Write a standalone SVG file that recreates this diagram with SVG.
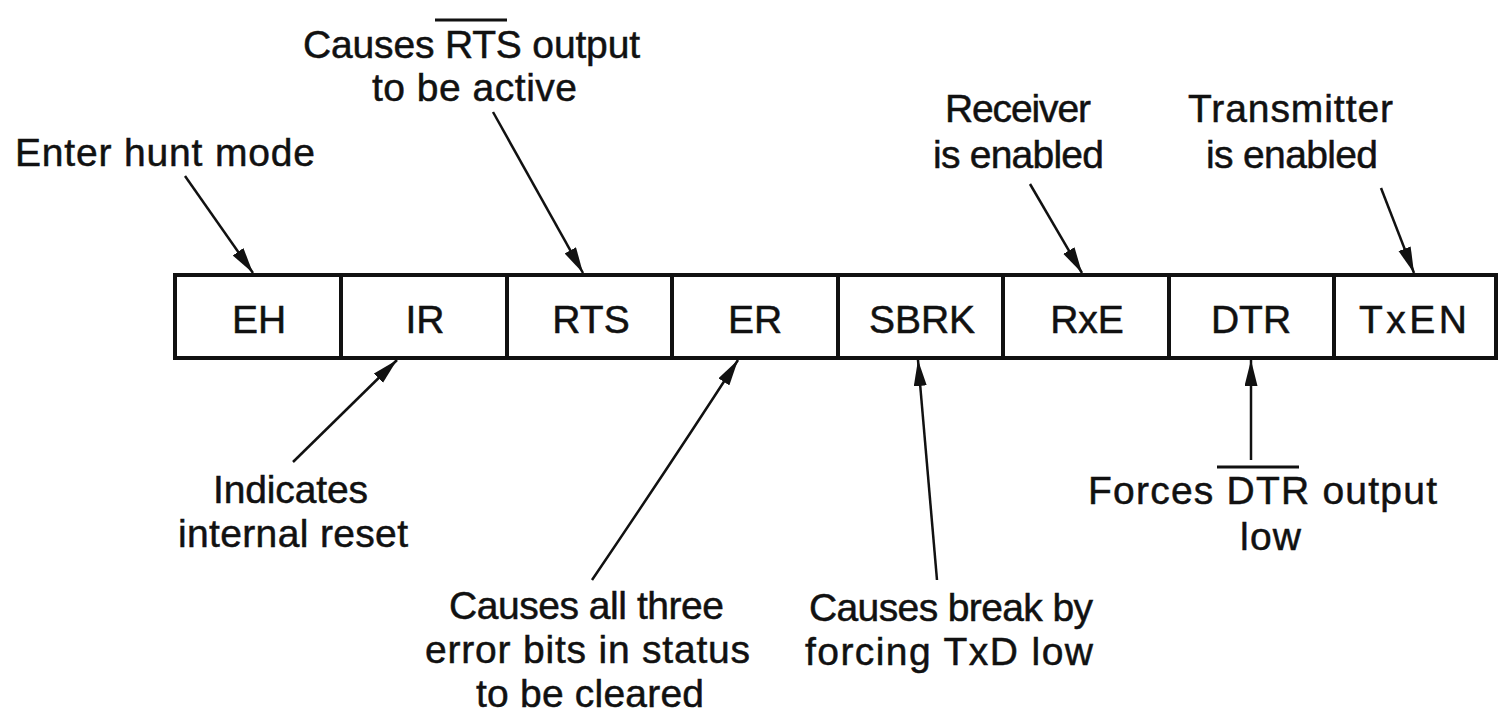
<svg xmlns="http://www.w3.org/2000/svg" width="1502" height="712" viewBox="0 0 1502 712">
  <style>
    .lbl { font-family: "Liberation Sans", Arial, sans-serif; font-size: 39px; fill: #111; stroke: #111; stroke-width: 0.5; }
    .cell { font-family: "Liberation Sans", Arial, sans-serif; font-size: 39px; fill: #111; stroke: #111; stroke-width: 0.5; text-anchor: middle; }
    .box { fill: #fff; stroke: #111; stroke-width: 4; }
    .div { stroke: #111; stroke-width: 4; }
    .arrow { fill: none; stroke: #111; stroke-width: 2.5; marker-end: url(#head); }
    .bar { stroke: #111; stroke-width: 3; }
  </style>
  <defs>
    <marker id="head" markerUnits="userSpaceOnUse" markerWidth="28" markerHeight="14" refX="26" refY="6.5" orient="auto">
      <path d="M0,0 L26,6.5 L0,13 Z" fill="#111"/>
    </marker>
  </defs>

  <rect width="1502" height="712" fill="#fff"/>

  <!-- command register: eight bit cells -->
  <g id="register">
    <rect class="box" x="175" y="275" width="1321" height="83"/>
    <line class="div" x1="341" y1="275" x2="341" y2="358"/>
    <line class="div" x1="507" y1="275" x2="507" y2="358"/>
    <line class="div" x1="672" y1="275" x2="672" y2="358"/>
    <line class="div" x1="838" y1="275" x2="838" y2="358"/>
    <line class="div" x1="1003" y1="275" x2="1003" y2="358"/>
    <line class="div" x1="1169" y1="275" x2="1169" y2="358"/>
    <line class="div" x1="1334" y1="275" x2="1334" y2="358"/>
  </g>
  <g id="bit-eh"><text class="cell" x="259" y="333">EH</text></g>
  <g id="bit-ir"><text class="cell" x="425" y="333">IR</text></g>
  <g id="bit-rts"><text class="cell" x="591" y="333">RTS</text></g>
  <g id="bit-er"><text class="cell" x="755" y="333">ER</text></g>
  <g id="bit-sbrk"><text class="cell" x="922" y="333">SBRK</text></g>
  <g id="bit-rxe"><text class="cell" x="1087" y="333">RxE</text></g>
  <g id="bit-dtr"><text class="cell" x="1251" y="333">DTR</text></g>
  <g id="bit-txen"><text class="cell" x="1413" y="333" textLength="108" lengthAdjust="spacing">TxEN</text></g>

  <!-- annotations -->
  <g id="note-eh">
    <text class="lbl" x="15" y="166" textLength="300" lengthAdjust="spacing">Enter hunt mode</text>
  </g>
  <g id="note-rts">
    <text class="lbl" x="303" y="58" textLength="337" lengthAdjust="spacing">Causes RTS output</text>
    <line class="bar" x1="435" y1="20" x2="507" y2="20"/>
    <text class="lbl" x="372" y="101" textLength="205" lengthAdjust="spacing">to be active</text>
  </g>
  <g id="note-rxe">
    <text class="lbl" x="945" y="122" textLength="146" lengthAdjust="spacing">Receiver</text>
    <text class="lbl" x="933" y="168" textLength="171" lengthAdjust="spacing">is enabled</text>
  </g>
  <g id="note-txen">
    <text class="lbl" x="1188" y="122" textLength="205" lengthAdjust="spacing">Transmitter</text>
    <text class="lbl" x="1206" y="168" textLength="172" lengthAdjust="spacing">is enabled</text>
  </g>
  <g id="note-ir">
    <text class="lbl" x="213" y="503" textLength="155" lengthAdjust="spacing">Indicates</text>
    <text class="lbl" x="178" y="547" textLength="230" lengthAdjust="spacing">internal reset</text>
  </g>
  <g id="note-er">
    <text class="lbl" x="449" y="619" textLength="275" lengthAdjust="spacing">Causes all three</text>
    <text class="lbl" x="425" y="663" textLength="325" lengthAdjust="spacing">error bits in status</text>
    <text class="lbl" x="476" y="707" textLength="228" lengthAdjust="spacing">to be cleared</text>
  </g>
  <g id="note-sbrk">
    <text class="lbl" x="809" y="621" textLength="284" lengthAdjust="spacing">Causes break by</text>
    <text class="lbl" x="805" y="665" textLength="288" lengthAdjust="spacing">forcing TxD low</text>
  </g>
  <g id="note-dtr">
    <text class="lbl" x="1088" y="504" textLength="349" lengthAdjust="spacing">Forces DTR output</text>
    <line class="bar" x1="1217" y1="467" x2="1299" y2="467"/>
    <text class="lbl" x="1240" y="550" textLength="61" lengthAdjust="spacing">low</text>
  </g>

  <!-- leader arrows -->
  <g id="connectors">
    <line class="arrow" x1="185" y1="176" x2="253" y2="273"/>
    <line class="arrow" x1="493" y1="112" x2="583" y2="273"/>
    <line class="arrow" x1="1030" y1="184" x2="1082" y2="273"/>
    <line class="arrow" x1="1381" y1="188" x2="1414" y2="273"/>
    <line class="arrow" x1="293" y1="462" x2="397" y2="360"/>
    <path class="arrow" d="M592,580 Q672,462 738,360"/>
    <line class="arrow" x1="937" y1="580" x2="918" y2="360"/>
    <line class="arrow" x1="1251" y1="460" x2="1251" y2="360"/>
  </g>
</svg>
